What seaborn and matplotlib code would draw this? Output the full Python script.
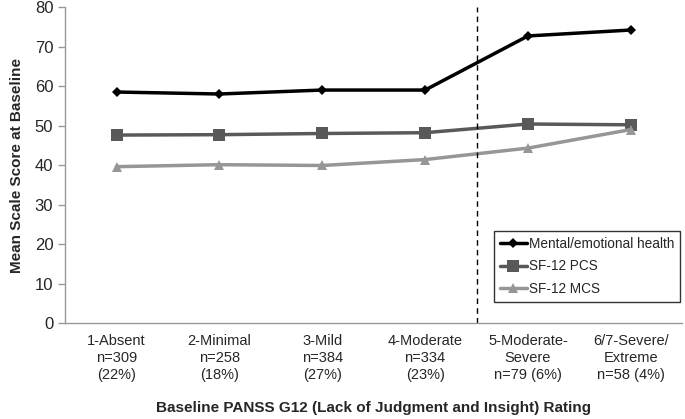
import numpy as np
import pandas as pd
import matplotlib
matplotlib.use("Agg")
import matplotlib.pyplot as plt
import seaborn as sns

categories = ["1-Absent\nn=309\n(22%)", "2-Minimal\nn=258\n(18%)", "3-Mild\nn=384\n(27%)",
              "4-Moderate\nn=334\n(23%)", "5-Moderate-\nSevere\nn=79 (6%)", "6/7-Severe/\nExtreme\nn=58 (4%)"]
mental = [58.5, 58.0, 59.0, 59.0, 72.7, 74.2]
pcs = [47.6, 47.7, 48.0, 48.2, 50.4, 50.2]
mcs = [39.6, 40.1, 39.9, 41.4, 44.3, 49.0]

series = {"Mental/emotional health": mental, "SF-12 PCS": pcs, "SF-12 MCS": mcs}
colors = {"Mental/emotional health": "#000000", "SF-12 PCS": "#595959", "SF-12 MCS": "#969696"}
markers = {"Mental/emotional health": "D", "SF-12 PCS": "s", "SF-12 MCS": "^"}
msizes = {"Mental/emotional health": 5, "SF-12 PCS": 8, "SF-12 MCS": 7}

rows = []
for name, vals in series.items():
    for i, v in enumerate(vals):
        rows.append({"pos": i, "value": v, "series": name})
df = pd.DataFrame(rows)

sns.set_style("white")
plt.rcParams["font.family"] = ["Liberation Sans", "DejaVu Sans"]

fig = plt.figure(figsize=(6.85, 4.19), dpi=100)
ax = fig.add_axes([0.095, 0.229, 0.901, 0.754])

for name in series:
    sub = df[df["series"] == name]
    sns.lineplot(data=sub, x="pos", y="value", ax=ax, color=colors[name], linewidth=2.5,
                 marker=markers[name], markersize=msizes[name], markeredgewidth=0,
                 label=name)

ax.axvline(3.5, color="black", linestyle=(0, (4, 3)), linewidth=1)

ax.set_xlim(-0.5, 5.5)
ax.set_ylim(0, 80)
ax.set_yticks(range(0, 81, 10))
ax.set_xticks(range(len(categories)))
ax.set_xticklabels(categories, fontsize=10.5, linespacing=1.25)
ax.set_xticks(np.arange(-0.5, 5.6, 1), minor=True)
ax.tick_params(axis="x", which="major", length=0, pad=8)
ax.tick_params(axis="x", which="minor", length=5, color="#999999", width=1)
ax.tick_params(axis="y", length=5, color="#999999", width=1, labelsize=12, left=True)

for side in ["top", "right"]:
    ax.spines[side].set_visible(False)
for side in ["left", "bottom"]:
    ax.spines[side].set_color("#999999")
    ax.spines[side].set_linewidth(1)

ax.set_xlabel("Baseline PANSS G12 (Lack of Judgment and Insight) Rating", fontsize=11,
              fontweight="bold", labelpad=14)
ax.set_ylabel("Mean Scale Score at Baseline", fontsize=11, fontweight="bold", labelpad=8)

leg = ax.legend(loc="upper right", bbox_to_anchor=(0.997, 0.291),
                frameon=True, fancybox=False, fontsize=9.8, handlelength=2.0, handletextpad=0.15,
                borderpad=0.45, labelspacing=0.6, borderaxespad=0)
leg.get_frame().set_edgecolor("black")
leg.get_frame().set_linewidth(1)

fig.savefig("out.png", dpi=100)
